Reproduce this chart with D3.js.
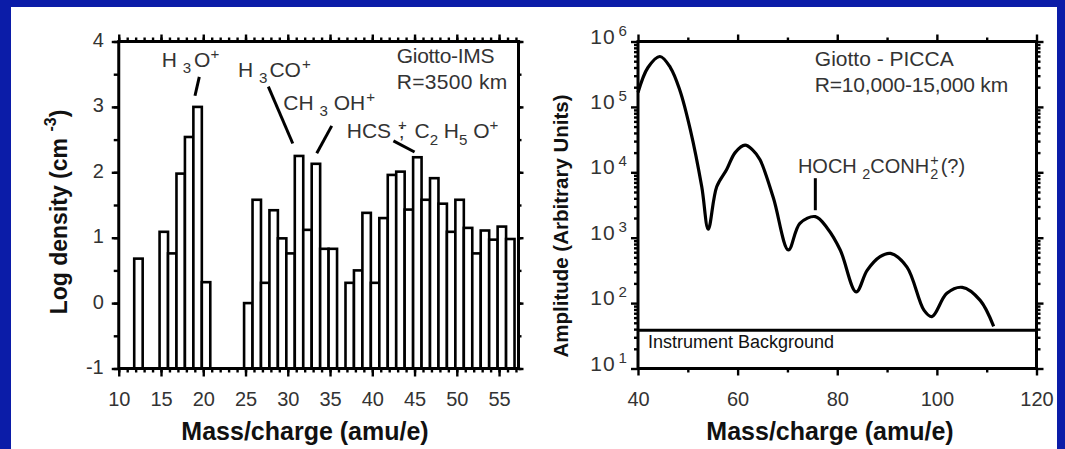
<!DOCTYPE html>
<html>
<head>
<meta charset="utf-8">
<script src="https://cdn.jsdelivr.net/npm/d3@7"></script>
<style>
  body { margin: 0; background: #0b1ca8; }
  svg { display: block; font-family: "Liberation Sans", Arial, sans-serif; }
</style>
</head>
<body>
<svg id="chart" width="1065" height="449"></svg>
<script>
// Giotto-IMS, R=3500 km : log density per mass/charge
var masses = [12, 15, 16, 17, 18, 19, 20, 25, 26, 27, 28, 29, 30, 31, 32, 33, 34, 35,
  37, 38, 39, 40, 41, 42, 43, 44, 45, 46, 47, 48, 49, 50, 51, 52, 53, 54, 55, 56];
var logDensity = [0.68, 1.09, 0.76, 1.98, 2.54, 3.0, 0.32, 0.0, 1.58, 0.31, 1.42, 0.99, 0.76, 2.25, 1.12, 2.13, 0.83, 0.83,
  0.31, 0.5, 1.38, 0.31, 1.3, 1.96, 2.01, 1.43, 2.23, 1.58, 1.91, 1.52, 1.09, 1.58, 1.15, 0.76, 1.11, 0.97, 1.17, 0.98];

// Giotto - PICCA, R=10,000-15,000 km : amplitude per mass/charge
var piccaMass = [40, 42, 44.4, 46.5, 48.4, 50.5, 52.8, 54.1, 55.8, 57.8, 59.5, 61.5, 63, 64.5, 67.2, 70.2,
  72.5, 75.6, 78, 80.6, 83.8, 86, 88.6, 90.7, 94, 97.4, 99, 102, 105.1, 108.7, 111.4];
var piccaAmp = [1.66e5, 4.0e5, 5.9e5, 4.0e5, 1.8e5, 4.5e4, 6.0e3, 1.35e3, 6.0e3, 1.1e4, 2.0e4, 2.6e4, 2.2e4, 1.55e4, 4.0e3, 650,
  1660, 2100, 1400, 650, 148, 316, 513, 575, 355, 78, 62, 141, 174, 110, 44];
var instrumentBackground = 38.5;

// tick labels
var leftXTicks = [10, 15, 20, 25, 30, 35, 40, 45, 50, 55];
var leftYTicks = [-1, 0, 1, 2, 3, 4];
var rightXTicks = [40, 60, 80, 100, 120];
var rightYDecades = [1, 2, 3, 4, 5, 6];

var svg = d3.select("#chart");
svg.append("rect").attr("x", 11).attr("y", 7).attr("width", 1046).attr("height", 442).attr("fill", "#fff");

var plotTop = 41.5, plotBottom = 368.5;
var xL = d3.scaleLinear().domain([10, 57.3]).range([118.75, 518.5]);
var yL = d3.scaleLinear().domain([-1, 4]).range([plotBottom, plotTop]);
var xR = d3.scaleLinear().domain([40, 120]).range([638, 1036.5]);
var yR = d3.scaleLog().domain([10, 1e6]).range([plotBottom, plotTop]);

var ink = "#111", grey = "#333";
var plain = d => String(d);

// draw ticks with a d3 axis, no domain line
function ticks(axis, values, size, fmt, pad) {
  var g = svg.append("g");
  g.call(axis.tickValues(values).tickSize(size).tickSizeOuter(0).tickPadding(pad || 3).tickFormat(fmt || (() => "")));
  g.select(".domain").remove();
  g.attr("font-size", 20).attr("font-family", null);
  g.selectAll(".tick line").attr("stroke", "#000").attr("stroke-width", 2.4);
  g.selectAll(".tick text").attr("fill", grey);
  return g;
}

function frame(x, y) {
  svg.append("rect")
    .attr("x", x.range()[0]).attr("y", plotTop)
    .attr("width", x.range()[1] - x.range()[0]).attr("height", plotBottom - plotTop)
    .attr("fill", "none").attr("stroke", "#000").attr("stroke-width", 3);
}

// rich text: parts = [[text, "sub"|"sup"|"", dx]]
function rich(x, y, parts, size, anchor) {
  var t = svg.append("text").attr("x", x).attr("y", y).attr("font-size", size)
    .attr("fill", grey).attr("text-anchor", anchor || "start");
  var shift = 0;
  parts.forEach(function(p) {
    var target = p[1] === "sub" ? size * 0.3 : p[1] === "sup" ? -size * 0.38 : 0;
    t.append("tspan").text(p[0])
      .attr("font-size", p[1] ? size * 0.72 : size)
      .attr("dx", p[2] || 0)
      .attr("dy", target - shift);
    shift = target;
  });
  return t;
}

// ---------- left panel ----------
var bw = xL(1) - xL(0);
svg.append("g").selectAll("rect").data(masses).join("rect")
  .attr("x", d => xL(d - 0.17))
  .attr("width", bw)
  .attr("y", (d, i) => yL(logDensity[i]))
  .attr("height", (d, i) => yL(-1) - yL(logDensity[i]))
  .attr("fill", "#fff").attr("stroke", "#000").attr("stroke-width", 2.6);

var unitMasses = d3.range(10, 58);
ticks(d3.axisBottom(xL), unitMasses, 4).attr("transform", "translate(0," + plotBottom + ")");
ticks(d3.axisBottom(xL), leftXTicks, 8, plain, 15).attr("transform", "translate(0," + plotBottom + ")");
ticks(d3.axisTop(xL), unitMasses, 4).attr("transform", "translate(0," + plotTop + ")");
ticks(d3.axisTop(xL), leftXTicks, 7).attr("transform", "translate(0," + plotTop + ")");
var halfSteps = d3.range(-1, 4.01, 0.5);
ticks(d3.axisLeft(yL), halfSteps, 5).attr("transform", "translate(" + xL.range()[0] + ",0)");
ticks(d3.axisLeft(yL), leftYTicks, 7, plain, 8).attr("transform", "translate(" + xL.range()[0] + ",0)")
  .selectAll("text").attr("dy", "0.25em");
ticks(d3.axisRight(yL), halfSteps, 3).attr("transform", "translate(" + xL.range()[1] + ",0)");
ticks(d3.axisRight(yL), leftYTicks, 5).attr("transform", "translate(" + xL.range()[1] + ",0)");
frame(xL, yL);

// left annotations (positioned in data units)
var leaderLines = [
  [19.53, 3.46, 19.02, 3.17],
  [27.7, 3.31, 30.59, 2.44],
  [35.2, 2.71, 33.43, 2.29],
  [42.5, 2.48, 45.0, 2.31]
];
svg.append("g").selectAll("line").data(leaderLines).join("line")
  .attr("x1", d => xL(d[0])).attr("y1", d => yL(d[1]))
  .attr("x2", d => xL(d[2])).attr("y2", d => yL(d[3]))
  .attr("stroke", "#000").attr("stroke-width", 3);

rich(xL(15.08), yL(3.61), [["H "], ["3", "sub"], ["O", "", 3], ["+", "sup"]], 21);
rich(xL(24.11), yL(3.46), [["H "], ["3", "sub"], ["CO", "", 2], ["+", "sup", 1]], 21);
rich(xL(29.47), yL(2.95), [["CH "], ["3", "sub"], [" OH"], ["+", "sup", 1]], 21);
rich(xL(36.98), yL(2.52), [["HCS "], ["+", "sup", 1], [";", "", -8], [" C", "", 4], ["2", "sub"], [" H"], ["5", "sub"], [" O"], ["+", "sup"]], 21);
rich(xL(42.9), yL(3.67), [["Giotto-IMS"]], 21).attr("letter-spacing", -0.3);
rich(xL(42.9), yL(3.28), [["R=3500 km"]], 21).attr("letter-spacing", 0.3);

// ---------- right panel ----------
var line = d3.line().x(d => xR(d[0])).y(d => yR(d[1])).curve(d3.curveCatmullRom.alpha(0.5));
svg.append("path").datum(piccaMass.map((m, i) => [m, piccaAmp[i]]))
  .attr("d", line).attr("fill", "none").attr("stroke", "#000").attr("stroke-width", 3.2)
  .attr("stroke-linejoin", "round");

svg.append("line")
  .attr("x1", xR(40)).attr("x2", xR(120))
  .attr("y1", yR(instrumentBackground)).attr("y2", yR(instrumentBackground))
  .attr("stroke", "#000").attr("stroke-width", 3);

var minorLog = [];
rightYDecades.slice(0, 5).forEach(d => d3.range(2, 10).forEach(k => minorLog.push(k * Math.pow(10, d))));
var decadeVals = rightYDecades.map(d => Math.pow(10, d));
ticks(d3.axisBottom(xR), d3.range(50, 120, 20), 4).attr("transform", "translate(0," + plotBottom + ")");
ticks(d3.axisBottom(xR), rightXTicks, 7, plain, 16).attr("transform", "translate(0," + plotBottom + ")");
ticks(d3.axisTop(xR), d3.range(50, 120, 20), 4).attr("transform", "translate(0," + plotTop + ")");
ticks(d3.axisTop(xR), rightXTicks, 7).attr("transform", "translate(0," + plotTop + ")");
ticks(d3.axisLeft(yR), minorLog, 4).attr("transform", "translate(" + xR.range()[0] + ",0)");
ticks(d3.axisLeft(yR), decadeVals, 7).attr("transform", "translate(" + xR.range()[0] + ",0)");
ticks(d3.axisRight(yR), minorLog, 4).attr("transform", "translate(" + xR.range()[1] + ",0)");
ticks(d3.axisRight(yR), decadeVals, 7).attr("transform", "translate(" + xR.range()[1] + ",0)");
frame(xR, yR);

rightYDecades.forEach(function(d) {
  rich(628, yR(Math.pow(10, d)) + 2, [["10"], [String(d), "sup", 3]], 21, "end").attr("letter-spacing", 1);
});

svg.append("line")
  .attr("x1", xR(75.6)).attr("x2", xR(75.6))
  .attr("y1", yR(Math.pow(10, 3.91))).attr("y2", yR(Math.pow(10, 3.42)))
  .attr("stroke", "#000").attr("stroke-width", 3);

rich(xR(75.5), yR(Math.pow(10, 5.62)), [["Giotto - PICCA"]], 21);
rich(xR(75.5), yR(Math.pow(10, 5.23)), [["R=10,000-15,000 km"]], 21).attr("letter-spacing", -0.2);
rich(xR(72.1), yR(Math.pow(10, 3.99)), [["HOCH "], ["2", "sub"], ["CONH"], ["2", "sub", 1], ["+", "sup", -8], ["(?)", "", 2]], 20);
rich(xR(42), yR(Math.pow(10, 1.31)), [["Instrument Background"]], 18).attr("fill", ink);

// ---------- axis titles ----------
function title(x, y, rot, size) {
  var t = svg.append("text").attr("font-size", size).attr("font-weight", "bold").attr("fill", ink)
    .attr("text-anchor", "middle")
    .attr("transform", "translate(" + x + "," + y + ")" + (rot ? " rotate(-90)" : ""));
  return t;
}
title(305, 440, false, 25).text("Mass/charge (amu/e)");
title(830, 440, false, 25).text("Mass/charge (amu/e)");
var lt = title(67, 212, true, 23);
lt.append("tspan").text("Log density (cm ");
lt.append("tspan").text("-3").attr("font-size", 16).attr("dy", -11);
lt.append("tspan").text(")").attr("dy", 11);
title(568, 226, true, 20.5).text("Amplitude (Arbitrary Units)");
</script>
</body>
</html>
